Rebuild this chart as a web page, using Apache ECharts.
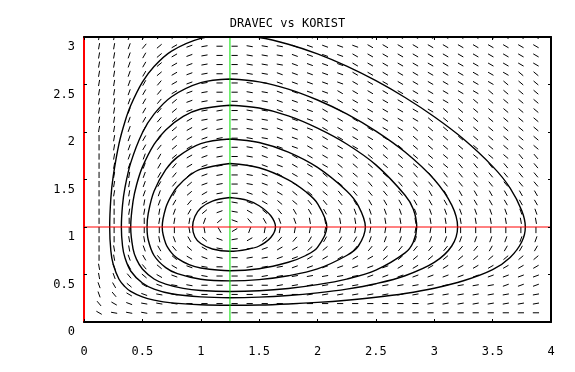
<!DOCTYPE html>
<html><head><meta charset="utf-8">
<script src="https://cdn.jsdelivr.net/npm/echarts@6/dist/echarts.min.js"></script>
<style>html,body{margin:0;padding:0;background:#fff}#c{width:575px;height:372px}</style>
</head><body><div id="c"></div>
<script>
const titleText = 'DRAVEC vs KORIST';
const eqX = 1.25;   // vertical (green) line
const eqY = 1.0;    // horizontal (red) line

// direction-field grid positions
const fieldX = [0.129,0.258,0.387,0.516,0.645,0.774,0.903,1.032,1.161,1.290,1.419,1.548,1.677,1.806,1.935,2.065,2.194,2.323,2.452,2.581,2.710,2.839,2.968,3.097,3.226,3.355,3.484,3.613,3.742,3.871];
const fieldY = [0.097,0.194,0.290,0.387,0.484,0.581,0.677,0.774,0.871,0.968,1.065,1.161,1.258,1.355,1.452,1.548,1.645,1.742,1.839,1.935,2.032,2.129,2.226,2.323,2.419,2.516,2.613,2.710,2.806,2.903,3.000];
// dash angle per cell (rows bottom -> top): '0'..'9' = 0..90 deg, 'a'..'h' = -10..-80 deg
const fieldAngles = [
 "caaa000000"+"0000000000"+"0000000000",
 "ecbaaa0000"+"0000000000"+"0011111111",
 "gecbaaa000"+"0000111111"+"1111111111",
 "gfdcbaa000"+"0011111111"+"1111111222",
 "hgedcbaa00"+"0111111122"+"2222222222",
 "hgfedcba00"+"1112222222"+"3333333333",
 "9hgfedcba0"+"1122333334"+"4444444444",
 "9hhgfedca0"+"1233444555"+"5555556666",
 "99hhhgfdb1"+"3455666677"+"7777777777",
 "999999hhf3"+"7888888888"+"8889999999",
 "999988874b"+"efgghhhhhh"+"hhhhhhhhhh",
 "998887642a"+"cdeffffggg"+"gggggggggg",
 "998876531a"+"bcddeeefff"+"ffffffffff",
 "9887764310"+"bccdddeeee"+"eeffffffff",
 "9887654210"+"abccddddee"+"eeeeeeeeee",
 "9887654210"+"abcccddddd"+"deeeeeeeee",
 "9877653210"+"abbcccdddd"+"ddddeeeeee",
 "9877643210"+"abbccccddd"+"ddddddddee",
 "9876543210"+"abbbccccdd"+"dddddddddd",
 "9876543210"+"aabbcccccc"+"dddddddddd",
 "8876543210"+"aabbbccccc"+"cddddddddd",
 "8876543110"+"aabbbccccc"+"ccdddddddd",
 "8876542110"+"aabbbccccc"+"cccddddddd",
 "8876542100"+"aabbbbcccc"+"ccccdddddd",
 "8876532100"+"aabbbbcccc"+"ccccccdddd",
 "8876532100"+"aabbbbbccc"+"cccccccddd",
 "8876432100"+"aabbbbbccc"+"ccccccccdd",
 "8876432100"+"aaabbbbccc"+"cccccccccc",
 "8876432100"+"aaabbbbccc"+"cccccccccc",
 "8875432100"+"aaabbbbbcc"+"cccccccccc",
 "8875432100"+"aaabbbbbcc"+"cccccccccc"
];
const angleCode = {'0':0,'1':10,'2':20,'3':30,'4':40,'5':50,'6':60,'7':70,'8':80,'9':90,
  'a':-10,'b':-20,'c':-30,'d':-40,'e':-50,'f':-60,'g':-70,'h':-80};

// closed trajectories [x, y]
const orbit1 = [[1.25,1.31],[1.4,1.28],[1.5,1.224],[1.6,1.118],[1.64,1.0],[1.6,0.89],[1.5,0.80],[1.4,0.765],[1.25,0.744],[1.1,0.768],[1.0,0.826],[0.95,0.895],[0.93,1.0],[0.95,1.11],[1.0,1.2],[1.1,1.273],[1.25,1.31]];
const orbit2 = [[1.25,1.669],[1.5,1.624],[1.75,1.497],[1.9,1.371],[2.0,1.247],[2.08,1.0],[2.0,0.786],[1.9,0.70],[1.75,0.629],[1.5,0.561],[1.25,0.54],[1.0,0.569],[0.9,0.604],[0.8,0.67],[0.75,0.727],[0.7,0.826],[0.67,1.0],[0.7,1.2],[0.75,1.334],[0.8,1.424],[0.9,1.54],[1.0,1.61],[1.25,1.669]];
const orbit3 = [[1.25,1.927],[1.5,1.89],[1.75,1.789],[2.0,1.628],[2.25,1.38],[2.35,1.223],[2.41,1.0],[2.35,0.80],[2.25,0.70],[2.0,0.559],[1.75,0.487],[1.5,0.446],[1.25,0.433],[1.0,0.45],[0.8,0.509],[0.7,0.572],[0.6,0.70],[0.55,0.866],[0.54,1.0],[0.55,1.142],[0.6,1.376],[0.7,1.603],[0.8,1.736],[1.0,1.878],[1.25,1.927]];
const orbit4 = [[1.25,2.282],[1.5,2.252],[1.75,2.17],[2.0,2.041],[2.25,1.874],[2.5,1.654],[2.75,1.335],[2.82,1.19],[2.85,1.0],[2.82,0.84],[2.75,0.727],[2.5,0.546],[2.25,0.452],[2.0,0.393],[1.75,0.353],[1.5,0.329],[1.25,0.321],[1.0,0.332],[0.85,0.354],[0.7,0.399],[0.6,0.453],[0.5,0.558],[0.45,0.659],[0.42,0.771],[0.40,1.0],[0.42,1.269],[0.45,1.442],[0.5,1.63],[0.6,1.87],[0.7,2.022],[0.85,2.164],[1.0,2.242],[1.25,2.282]];
const orbit5 = [[1.25,2.558],[1.5,2.528],[1.75,2.452],[2.0,2.337],[2.25,2.191],[2.5,2.01],[2.75,1.789],[3.0,1.50],[3.15,1.23],[3.2,1.0],[3.15,0.80],[3.0,0.627],[2.75,0.487],[2.5,0.403],[2.25,0.346],[2.0,0.307],[1.75,0.279],[1.5,0.262],[1.25,0.256],[1.0,0.2645],[0.75,0.298],[0.6,0.347],[0.5,0.41],[0.4,0.537],[0.35,0.68],[0.33,0.80],[0.32,1.0],[0.33,1.23],[0.35,1.409],[0.4,1.675],[0.5,1.992],[0.6,2.188],[0.75,2.371],[1.0,2.519],[1.25,2.558]];
const orbit6 = [[1.25,3.02],[1.5,2.995],[1.75,2.924],[2.0,2.822],[2.25,2.693],[2.5,2.54],[2.75,2.363],[3.0,2.16],[3.25,1.926],[3.5,1.638],[3.65,1.41],[3.75,1.17],[3.78,1.0],[3.75,0.845],[3.65,0.68],[3.5,0.552],[3.25,0.434],[3.0,0.3555],[2.75,0.30],[2.5,0.26],[2.25,0.2296],[2.0,0.2065],[1.75,0.19],[1.5,0.179],[1.25,0.176],[1.0,0.181],[0.75,0.201],[0.6,0.23],[0.5,0.2635],[0.4,0.322],[0.35,0.3725],[0.3,0.45],[0.25,0.6085],[0.23,0.749],[0.22,1.0],[0.23,1.303],[0.25,1.532],[0.3,1.878],[0.35,2.106],[0.4,2.278],[0.5,2.524],[0.6,2.69],[0.75,2.852],[1.0,2.986],[1.25,3.02]];
const orbits = [orbit1, orbit2, orbit3, orbit4, orbit5, orbit6];

const xMin = 0, xMax = 4, xStep = 0.5;
const yMin = 0, yMax = 3, yStep = 0.5;

// ---- build field data ----
const fieldData = [];
fieldAngles.forEach((row, j) => {
  for (let i = 0; i < fieldX.length; i++) {
    fieldData.push([fieldX[i], fieldY[j], angleCode[row.charAt(i)]]);
  }
});

const FONT = "'DejaVu Sans Mono', 'Liberation Mono', monospace";
const chart = echarts.init(document.getElementById('c'), null, {renderer: 'canvas'});

const orbitSeries = orbits.map(o => ({
  type: 'line', data: o, showSymbol: false, symbol: 'none', smooth: 0.35,
  clip: true, silent: true, z: 3,
  lineStyle: {color: '#000', width: 1.4}
}));

chart.setOption({
  animation: false,
  backgroundColor: '#fff',
  title: {
    text: titleText, left: 'center', top: 18, padding: 0,
    textStyle: {fontFamily: FONT, fontSize: 12, fontWeight: 'normal', color: '#000'}
  },
  grid: {left: 84, top: 37, width: 467, height: 285, containLabel: false},
  xAxis: [
    {type: 'value', position: 'bottom', min: xMin, max: xMax, interval: xStep, z: 10,
     axisLine: {show: true, onZero: false, lineStyle: {color: '#000', width: 2}},
     axisTick: {show: true, inside: true, length: 3, lineStyle: {color: '#000', width: 1}},
     axisLabel: {show: true, margin: 30, verticalAlign: 'middle', fontFamily: FONT, fontSize: 12, color: '#000'},
     splitLine: {show: false}},
    {type: 'value', position: 'top', min: xMin, max: xMax, interval: xStep, z: 10,
     axisLine: {show: true, onZero: false, lineStyle: {color: '#000', width: 2}},
     axisTick: {show: true, inside: true, length: 3, lineStyle: {color: '#000', width: 1}},
     axisLabel: {show: false}, splitLine: {show: false}}
  ],
  yAxis: [
    {type: 'value', position: 'left', min: yMin, max: yMax, interval: yStep, z: 10,
     axisLine: {show: true, onZero: false, lineStyle: {color: '#ff0000', width: 2}},
     axisTick: {show: true, inside: true, length: 3, lineStyle: {color: '#000', width: 1}},
     axisLabel: {show: true, margin: 9, verticalAlign: 'top', lineHeight: 20,
                 fontFamily: FONT, fontSize: 12, color: '#000'},
     splitLine: {show: false}},
    {type: 'value', position: 'right', min: yMin, max: yMax, interval: yStep, z: 10,
     axisLine: {show: true, onZero: false, lineStyle: {color: '#000', width: 2}},
     axisTick: {show: true, inside: true, length: 3, lineStyle: {color: '#000', width: 1}},
     axisLabel: {show: false}, splitLine: {show: false}}
  ],
  series: [
    {
      type: 'custom', data: fieldData, clip: true, silent: true, z: 2,
      encode: {x: 0, y: 1},
      renderItem: function (params, api) {
        const p = api.coord([api.value(0), api.value(1)]);
        const a = api.value(2) * Math.PI / 180;
        const h = 3.1;
        const dx = h * Math.cos(a), dy = h * Math.sin(a);
        return {type: 'line',
          shape: {x1: p[0] - dx, y1: p[1] + dy, x2: p[0] + dx, y2: p[1] - dy},
          style: {stroke: '#000', lineWidth: 1}};
      }
    },
    ...orbitSeries,
    {type: 'line', data: [[eqX, yMin], [eqX, yMax]], showSymbol: false, symbol: 'none',
     silent: true, z: 4, lineStyle: {color: '#00e000', width: 1}},
    {type: 'line', data: [[xMin, eqY], [xMax, eqY]], showSymbol: false, symbol: 'none',
     silent: true, z: 4, lineStyle: {color: '#ff0000', width: 1}}
  ]
});
</script>
</body></html>
